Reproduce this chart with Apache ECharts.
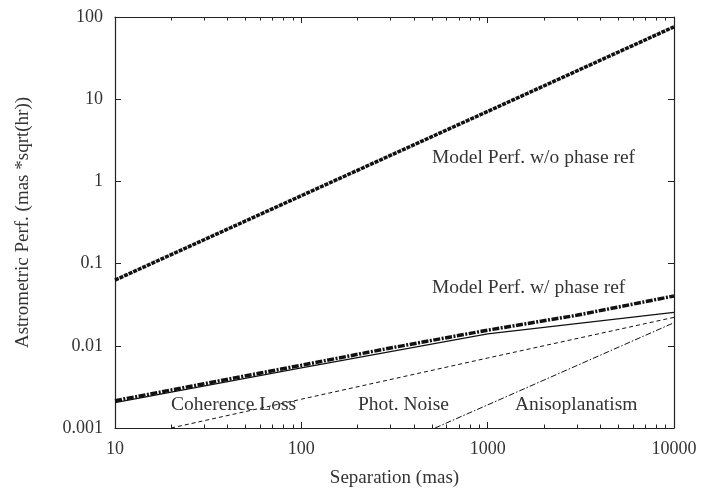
<!DOCTYPE html>
<html>
<head>
<meta charset="utf-8">
<script src="https://cdn.jsdelivr.net/npm/echarts@6/dist/echarts.min.js"></script>
<style>
  html, body { margin: 0; padding: 0; background: #fff; }
  #chart { width: 701px; height: 489px; }
</style>
</head>
<body>
<div id="chart"></div>
<script>
// Astrometric performance vs. separation (log-log)
const sepWoRef = [10, 100, 1000, 10000];
const perfWoRef = [0.063, 0.67, 7.1, 76];

const sepWRef = [10, 100, 300, 1000, 3000, 10000];
const perfWRef = [0.00215, 0.0058, 0.0094, 0.0155, 0.0235, 0.0404];

const sepCoh = [10, 100, 1000, 10000];
const cohLoss = [0.00204, 0.0054, 0.0140, 0.0255];

const sepPhot = [20, 100, 1000, 10000];
const photNoise = [0.001, 0.00224, 0.0071, 0.0222];

const sepAniso = [522, 1000, 10000];
const aniso = [0.001, 0.00191, 0.0191];

const xMinorTicks = [20, 30, 40, 50, 60, 70, 80, 90,
                     200, 300, 400, 500, 600, 700, 800, 900,
                     2000, 3000, 4000, 5000, 6000, 7000, 8000, 9000];

const FONT = '"Liberation Serif", "DejaVu Serif", serif';
const INK = '#222';
const TXT = '#333';
const TICK_FS = 18;
const NAME_FS = 19;
const NOTE_FS = 19.5;

const pairs = (xs, ys) => xs.map((x, i) => [x, ys[i]]);
const fmt = v => String(+Number(v).toPrecision(3));

const chart = echarts.init(document.getElementById('chart'), null, { renderer: 'canvas' });

const axisCommon = {
  type: 'log',
  logBase: 10,
  axisLine: { show: true, lineStyle: { color: INK, width: 1.2 } },
  axisTick: { show: true, inside: true, length: 6, lineStyle: { color: INK, width: 1 } },
  splitLine: { show: false },
  minorTick: { show: false },
  minorSplitLine: { show: false }
};

function lineSeries(name, data, width, type, z) {
  return {
    name, type: 'line', data, xAxisIndex: 0, yAxisIndex: 0,
    showSymbol: false, symbol: 'none', smooth: false, z: z || 3,
    lineStyle: { color: '#111', width, type, cap: 'butt' },
    emphasis: { disabled: true }, animation: false
  };
}

function note(text, x, y) {
  return {
    type: 'text', x, y, z: 10,
    style: { text, font: NOTE_FS + 'px ' + FONT, fill: TXT, verticalAlign: 'middle', align: 'left' }
  };
}

const option = {
  animation: false,
  grid: {
    left: 115, right: 27, top: 17, bottom: 61,
    containLabel: false, outerBoundsMode: 'none'
  },
  xAxis: [
    Object.assign({}, axisCommon, {
      position: 'bottom', min: 10, max: 10000,
      name: 'Separation (mas)', nameLocation: 'middle', nameGap: 41,
      nameTextStyle: { fontFamily: FONT, fontSize: NAME_FS, color: TXT },
      axisLabel: { show: true, margin: 12, fontFamily: FONT, fontSize: TICK_FS, color: TXT, formatter: fmt }
    }),
    Object.assign({}, axisCommon, {
      position: 'top', min: 10, max: 10000,
      axisLabel: { show: false }
    })
  ],
  yAxis: [
    Object.assign({}, axisCommon, {
      position: 'left', min: 0.001, max: 100,
      name: 'Astrometric Perf. (mas *sqrt(hr))', nameLocation: 'middle', nameGap: 82,
      nameTextStyle: { fontFamily: FONT, fontSize: NAME_FS, color: TXT },
      axisLabel: { show: true, margin: 12, fontFamily: FONT, fontSize: TICK_FS, color: TXT, formatter: fmt }
    }),
    Object.assign({}, axisCommon, {
      position: 'right', min: 0.001, max: 100,
      axisLabel: { show: false }
    })
  ],
  series: [
    lineSeries('Model Perf. w/o phase ref', pairs(sepWoRef, perfWoRef), 3.5, [4, 1], 5),
    lineSeries('Model Perf. w/ phase ref', pairs(sepWRef, perfWRef), 3.5, [7, 1.5, 2, 1.5], 5),
    lineSeries('Coherence Loss', pairs(sepCoh, cohLoss), 1.2, 'solid', 4),
    lineSeries('Phot. Noise', pairs(sepPhot, photNoise), 1, [4, 3], 4),
    lineSeries('Anisoplanatism', pairs(sepAniso, aniso), 1, [6, 2, 1.5, 2], 4),
    {
      // minor ticks along the bottom and top edges of the log x axis
      name: 'xMinorTicks', type: 'custom', xAxisIndex: 0, yAxisIndex: 0,
      silent: true, z: 6, animation: false,
      data: xMinorTicks.map(v => [v, 1]),
      renderItem(params, api) {
        const p = api.coord([api.value(0), api.value(1)]);
        const cs = params.coordSys;
        const x = Math.round(p[0]) + 0.5;
        const yb = cs.y + cs.height, yt = cs.y;
        return {
          type: 'group',
          children: [
            { type: 'line', shape: { x1: x, y1: yb, x2: x, y2: yb - 3.5 }, style: { stroke: INK, lineWidth: 1 } },
            { type: 'line', shape: { x1: x, y1: yt, x2: x, y2: yt + 3.5 }, style: { stroke: INK, lineWidth: 1 } }
          ]
        };
      }
    }
  ],
  graphic: [
    note('Model Perf. w/o phase ref', 432, 158),
    note('Model Perf. w/ phase ref', 432, 288),
    note('Coherence Loss', 171, 405),
    note('Phot. Noise', 358, 405),
    note('Anisoplanatism', 515, 405)
  ]
};

chart.setOption(option);
</script>
</body>
</html>
